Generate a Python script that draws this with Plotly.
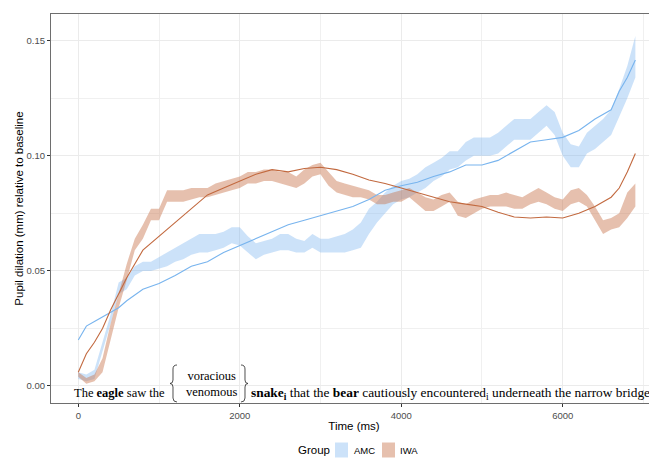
import plotly.graph_objects as go

# ---------------- data ----------------
band_time = [0, 100, 200, 300, 400, 500, 600, 700, 800, 900, 1000, 1100, 1200, 1300, 1400,
             1500, 1600, 1700, 1800, 1900, 2000, 2100, 2200, 2300, 2400, 2500, 2600, 2700,
             2800, 2900, 3000, 3100, 3200, 3300, 3400, 3500, 3600, 3700, 3800, 3900, 4000,
             4100, 4200, 4300, 4400, 4500, 4600, 4700, 4800, 4900, 5000, 5100, 5200, 5300,
             5400, 5500, 5600, 5700, 5800, 5900, 6000, 6100, 6200, 6300, 6400, 6500, 6600,
             6700, 6800, 6900]

amc_lo = [0.003, 0.002, 0.003, 0.015, 0.027, 0.040, 0.042, 0.048, 0.050, 0.050, 0.051, 0.052,
          0.054, 0.055, 0.057, 0.058, 0.058, 0.059, 0.060, 0.062, 0.061, 0.058, 0.055, 0.057,
          0.058, 0.059, 0.059, 0.058, 0.058, 0.060, 0.058, 0.058, 0.058, 0.058, 0.059, 0.060,
          0.066, 0.071, 0.075, 0.079, 0.081, 0.082, 0.084, 0.086, 0.089, 0.091, 0.094, 0.095,
          0.098, 0.100, 0.100, 0.100, 0.101, 0.104, 0.107, 0.107, 0.107, 0.110, 0.113, 0.109,
          0.100, 0.095, 0.095, 0.101, 0.103, 0.106, 0.109, 0.117, 0.125, 0.134]
amc_hi = [0.006, 0.005, 0.007, 0.019, 0.031, 0.045, 0.047, 0.052, 0.054, 0.054, 0.056, 0.058,
          0.060, 0.062, 0.064, 0.066, 0.066, 0.066, 0.067, 0.069, 0.069, 0.065, 0.062, 0.063,
          0.064, 0.066, 0.066, 0.064, 0.063, 0.066, 0.064, 0.064, 0.065, 0.066, 0.068, 0.071,
          0.077, 0.080, 0.084, 0.087, 0.089, 0.090, 0.092, 0.095, 0.097, 0.099, 0.102, 0.102,
          0.106, 0.108, 0.108, 0.108, 0.110, 0.113, 0.116, 0.116, 0.116, 0.119, 0.122, 0.119,
          0.110, 0.105, 0.104, 0.110, 0.113, 0.116, 0.120, 0.129, 0.139, 0.152]

iwa_lo = [0.004, 0.001, 0.002, 0.006, 0.020, 0.034, 0.046, 0.059, 0.064, 0.072, 0.072, 0.080,
          0.080, 0.080, 0.081, 0.082, 0.082, 0.083, 0.084, 0.085, 0.086, 0.088, 0.088, 0.089,
          0.089, 0.088, 0.087, 0.086, 0.088, 0.091, 0.092, 0.087, 0.084, 0.083, 0.082, 0.082,
          0.081, 0.079, 0.079, 0.080, 0.080, 0.082, 0.079, 0.076, 0.076, 0.078, 0.080, 0.074,
          0.073, 0.075, 0.077, 0.078, 0.078, 0.078, 0.077, 0.077, 0.079, 0.080, 0.079, 0.077,
          0.076, 0.079, 0.080, 0.078, 0.072, 0.066, 0.068, 0.069, 0.073, 0.078]
iwa_hi = [0.006, 0.0035, 0.005, 0.012, 0.027, 0.040, 0.053, 0.064, 0.070, 0.077, 0.077, 0.085,
          0.085, 0.085, 0.086, 0.086, 0.086, 0.088, 0.089, 0.090, 0.091, 0.093, 0.093, 0.094,
          0.094, 0.093, 0.093, 0.091, 0.094, 0.096, 0.097, 0.093, 0.089, 0.088, 0.087, 0.086,
          0.085, 0.083, 0.083, 0.084, 0.085, 0.086, 0.084, 0.082, 0.081, 0.083, 0.084, 0.080,
          0.079, 0.081, 0.082, 0.083, 0.083, 0.084, 0.083, 0.082, 0.084, 0.086, 0.084, 0.082,
          0.081, 0.085, 0.086, 0.083, 0.078, 0.072, 0.073, 0.075, 0.084, 0.088]

fit_time = [0, 100, 200, 300, 400, 500, 600, 800, 1000, 1200, 1400, 1600, 1800, 2000, 2200,
            2400, 2600, 2800, 3000, 3200, 3400, 3600, 3800, 4000, 4200, 4400, 4600, 4800,
            5000, 5200, 5400, 5600, 5800, 6000, 6200, 6400, 6600, 6700, 6800, 6900]
amc_fit = [0.020, 0.026, 0.028, 0.030, 0.032, 0.034, 0.037, 0.042, 0.0445, 0.048, 0.052,
           0.054, 0.058, 0.061, 0.064, 0.067, 0.070, 0.072, 0.074, 0.076, 0.078, 0.081, 0.085,
           0.087, 0.0885, 0.091, 0.093, 0.096, 0.096, 0.098, 0.102, 0.106, 0.107, 0.108, 0.111,
           0.116, 0.120, 0.128, 0.134, 0.1416]
iwa_fit = [0.006, 0.014, 0.019, 0.025, 0.033, 0.040, 0.047, 0.059, 0.065, 0.071, 0.077,
           0.083, 0.086, 0.089, 0.092, 0.094, 0.093, 0.0945, 0.095, 0.094, 0.092, 0.0895, 0.088,
           0.086, 0.084, 0.082, 0.080, 0.079, 0.078, 0.0755, 0.0734, 0.073, 0.0734, 0.073,
           0.075, 0.078, 0.082, 0.086, 0.093, 0.101]

groups = ["AMC", "IWA"]
legend_title = "Group"
x_ticks = [0, 2000, 4000, 6000]
y_ticks = [0.00, 0.05, 0.10, 0.15]
y_tick_labels = ["0.00", "0.05", "0.10", "0.15"]

# ---------------- styling ----------------
OFF = 8                      # page body margin of the html page
W, H = 657 - OFF, 461 - OFF
ML, MR, MT, MB = 51 - OFF, 0, 14 - OFF, 58
PW, PH = W - ML - MR, H - MT - MB
PLOT_LEFT = ML + OFF         # window coordinates of the plot area
PLOT_BOTTOM = OFF + H - MB

amc_line = "#78B4EE"
amc_fill = "rgba(120,180,240,0.38)"
iwa_line = "#C2693F"
iwa_fill = "rgba(200,115,75,0.45)"

def ppx(x):
    return (x - PLOT_LEFT) / PW

def ppy(y):
    return (PLOT_BOTTOM - y) / PH

fig = go.Figure()

def band(t, lo, hi, color, name):
    return go.Scatter(x=list(t) + list(t)[::-1], y=list(hi) + list(lo)[::-1],
                      fill="toself", fillcolor=color, line=dict(width=0),
                      mode="lines", showlegend=False, hoverinfo="skip", name=name)

fig.add_trace(band(band_time, amc_lo, amc_hi, amc_fill, groups[0]))
fig.add_trace(band(band_time, iwa_lo, iwa_hi, iwa_fill, groups[1]))
fig.add_trace(go.Scatter(x=fit_time, y=amc_fit, mode="lines", showlegend=False,
                         line=dict(color=amc_line, width=1.1), name=groups[0]))
fig.add_trace(go.Scatter(x=fit_time, y=iwa_fit, mode="lines", showlegend=False,
                         line=dict(color=iwa_line, width=1.1), name=groups[1]))

sans = "Liberation Sans, Arial, sans-serif"
axis_font = dict(family=sans, size=9.5, color="#4D4D4D")
title_font = dict(family=sans, size=11.5, color="#000000")

fig.update_xaxes(range=[-338, 7168], tickvals=x_ticks, ticks="outside", ticklen=3,
                 tickcolor="#333333", tickfont=axis_font, automargin=False,
                 showgrid=True, gridcolor="#EBEBEB", gridwidth=1,
                 minor=dict(dtick=1000, tick0=0, showgrid=True, gridcolor="#F0F0F0", gridwidth=0.7),
                 showline=True, linecolor="#6E6E6E", linewidth=1.2, mirror=True,
                 zeroline=False,
                 title=dict(text="Time (ms)", font=title_font, standoff=2))
fig.update_yaxes(range=[-0.0074, 0.1616], tickvals=y_ticks, ticktext=y_tick_labels,
                 ticks="outside", ticklen=3, tickcolor="#333333", tickfont=axis_font,
                 automargin=False,
                 showgrid=True, gridcolor="#EBEBEB", gridwidth=1,
                 minor=dict(dtick=0.025, tick0=0, showgrid=True, gridcolor="#F0F0F0", gridwidth=0.7),
                 showline=True, linecolor="#6E6E6E", linewidth=1.2, mirror=False,
                 zeroline=False,
                 title=dict(text="Pupil dilation (mm) relative to baseline", font=title_font,
                            standoff=0))

# sentence annotations
serif = dict(family="Liberation Serif, Times New Roman, serif", size=12.5, color="#000000")
serif_tail = dict(family="Liberation Serif, Times New Roman, serif", size=13.4, color="#000000")
ann = []
ann.append(dict(text="The <b>eagle</b> saw the", x=ppx(72), y=ppy(393), xref="paper", yref="paper",
                xanchor="left", yanchor="middle", showarrow=False, font=serif))
ann.append(dict(text="voracious<br>venomous", x=ppx(211.5), y=ppy(383.5), xref="paper", yref="paper",
                xanchor="center", yanchor="middle", showarrow=False, font=serif))
ann.append(dict(text="<b>snake<sub>i</sub></b> that the <b>bear</b> cautiously encountered<sub>i</sub> underneath the narrow bridge",
                x=ppx(249), y=ppy(393), xref="paper", yref="paper",
                xanchor="left", yanchor="middle", showarrow=False, font=serif_tail))

def brace(pts_cmd):
    out = []
    for item in pts_cmd:
        if isinstance(item, str):
            out.append(item)
        else:
            out.append(f"{ppx(item[0]):.5f},{ppy(item[1]):.5f}")
    return " ".join(out)

left_brace = brace(["M", (177, 365), "Q", (173, 365), (173, 369), "L", (173, 380),
                    "Q", (173, 383.5), (170, 383.5), "Q", (173, 383.5), (173, 387),
                    "L", (173, 398), "Q", (173, 402), (177, 402)])
right_brace = brace(["M", (241, 365), "Q", (245, 365), (245, 369), "L", (245, 380),
                     "Q", (245, 383.5), (248, 383.5), "Q", (245, 383.5), (245, 387),
                     "L", (245, 398), "Q", (245, 402), (241, 402)])
shapes = [dict(type="path", path=p, xref="paper", yref="paper",
               line=dict(color="#222222", width=0.8)) for p in (left_brace, right_brace)]

# legend (ggplot-style keys below the panel)
LEG_Y = 450
ann.append(dict(text=legend_title, x=ppx(296), y=ppy(LEG_Y), xref="paper", yref="paper",
                xanchor="left", yanchor="middle", showarrow=False,
                font=dict(family=sans, size=11.5, color="#000")))
for g, c, kx, tx in zip(groups, [amc_fill, iwa_fill], [335, 382], [352, 398]):
    shapes.append(dict(type="rect", xref="paper", yref="paper",
                       x0=ppx(kx), x1=ppx(kx + 13), y0=ppy(LEG_Y + 7.5), y1=ppy(LEG_Y - 7.5),
                       fillcolor=c, line=dict(width=0)))
    ann.append(dict(text=g, x=ppx(tx), y=ppy(LEG_Y), xref="paper", yref="paper",
                    xanchor="left", yanchor="middle", showarrow=False,
                    font=dict(family=sans, size=9.5, color="#000")))

fig.update_layout(
    width=W, height=H,
    margin=dict(l=ML, r=MR, t=MT, b=MB, autoexpand=False),
    paper_bgcolor="white", plot_bgcolor="white",
    annotations=ann, shapes=shapes,
    showlegend=False,
)

fig.write_html("out.html")
